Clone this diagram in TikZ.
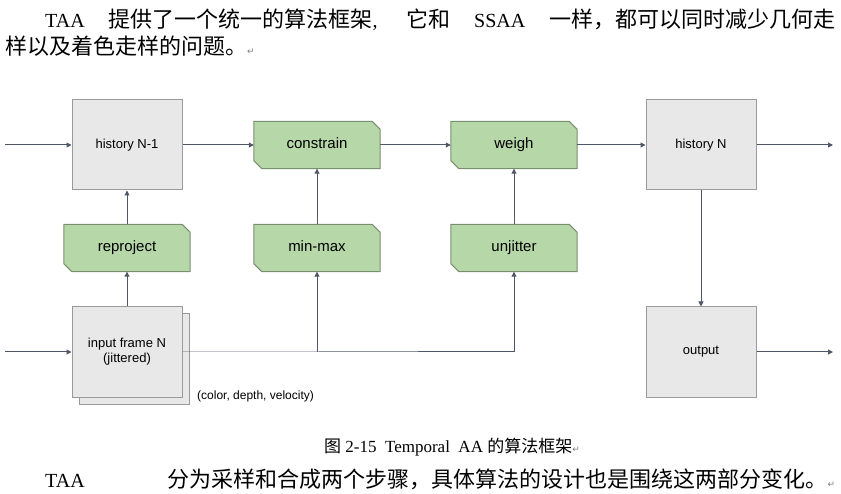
\documentclass[tikz,border=0pt]{standalone}
\usepackage{fontspec}
\setmainfont{Liberation Serif}
\newfontfamily\cjk{Noto Sans CJK SC}
\newfontfamily\lsans{Liberation Sans}
\newfontfamily\dvs{DejaVu Sans}
\newcommand{\retmark}{\textcolor{gray}{\dvs\small ↵}}
\usetikzlibrary{arrows.meta}
\definecolor{gbox}{HTML}{E8E8E8}
\definecolor{gline}{HTML}{9A9A9A}
\definecolor{grn}{HTML}{B6D7A8}
\definecolor{grnline}{HTML}{7A8F70}
\definecolor{arr}{HTML}{505868}
\begin{document}
\begin{tikzpicture}[x=1pt,y=-1pt,
  gray/.style={draw=gline,fill=gbox,line width=1pt,minimum width=110pt,minimum height=90pt,font=\lsans\fontsize{13}{15}\selectfont,align=center,inner sep=0},
  green/.style={minimum width=126pt,minimum height=47pt,font=\lsans\fontsize{15}{17}\selectfont,inner sep=0,text height=11pt,text depth=3pt},
  cut/.style={draw=grnline,fill=grn,line width=1pt},
  con/.style={draw=arr,line width=1pt,-{Triangle[length=5pt,width=5pt]}},
  body/.style={anchor=west,inner sep=0,font=\fontsize{20}{22}\selectfont}]
\useasboundingbox (0,0) rectangle (841,494);
% text
\node[body] (t1) at (45,20) {\makebox[790pt][s]{TAA {\cjk\fontsize{22}{24}\selectfont 提供了一个统一的算法框架}, {\cjk\fontsize{22}{24}\selectfont 它和} SSAA {\cjk\fontsize{22}{24}\selectfont 一样，都可以同时减少几何走}}};
\node[body] (t2) at (5,46) {{\cjk\fontsize{22}{24}\selectfont 样以及着色走样的问题。}\retmark};
\node[inner sep=0,font=\fontsize{17}{19}\selectfont] (cap) at (452,447) {{\cjk 图} 2-15\ \ Temporal\ \ AA {\cjk 的算法框架}\retmark};
\node[body] (t3) at (45,479) {\makebox[790pt][s]{TAA {\cjk\fontsize{22}{24}\selectfont 分为采样和合成两个步骤，具体算法的设计也是围绕这两部分变化。}\retmark}};
% boxes
\node[gray] (h1) at (127,145) {history N-1};
\node[gray] (hn) at (701,145) {history N};
\node[gray] (out) at (701,352) {output};
\node[gray,fill=gbox] (shadow) at (134,359) {};
\node[gray] (in) at (127,352) {input frame N\\(jittered)};
\foreach \n/\x/\y/\t in {con/317/145/constrain,wei/514/145/weigh,rep/127/248/reproject,mm/317/248/min-max,unj/514/248/unjitter}{
  \node[green] (\n) at (\x,\y) {};
  \draw[cut] ([xshift=8pt]\n.south west) -- ([yshift=8pt]\n.south west) -- (\n.north west) -- ([xshift=-8pt]\n.north east) -- ([yshift=-8pt]\n.north east) -- (\n.south east) -- cycle;
  \node[green] at (\x,\y) {\t};
}
\node[font=\lsans\fontsize{12}{14}\selectfont,anchor=west,inner sep=0] (lbl) at (197,396) {(color, depth, velocity)};
% connectors
\coordinate (a) at (5,145); \coordinate (b) at (5,352);
\coordinate (c) at (833,145); \coordinate (d) at (833,352);
\coordinate (j1) at (317,352); \coordinate (j2) at (514,352);
\draw[con] (a) -- (h1);
\draw[con] (b) -- (in);
\draw[con] (h1) -- (con);
\draw[con] (con) -- (wei);
\draw[con] (wei) -- (hn);
\draw[con] (hn) -- (c);
\draw[con] (out) -- (d);
\draw[con] (hn) -- (out);
\draw[con] (rep) -- (h1);
\draw[con] (in) -- (rep);
\draw[con] (mm) -- (con);
\draw[con] (unj) -- (wei);
\draw[draw=arr,line width=1pt] (in.east) -- (j1) -- (j2);
\draw[con] (j1) -- (mm);
\draw[con] (j2) -- (unj);
\end{tikzpicture}
\end{document}
